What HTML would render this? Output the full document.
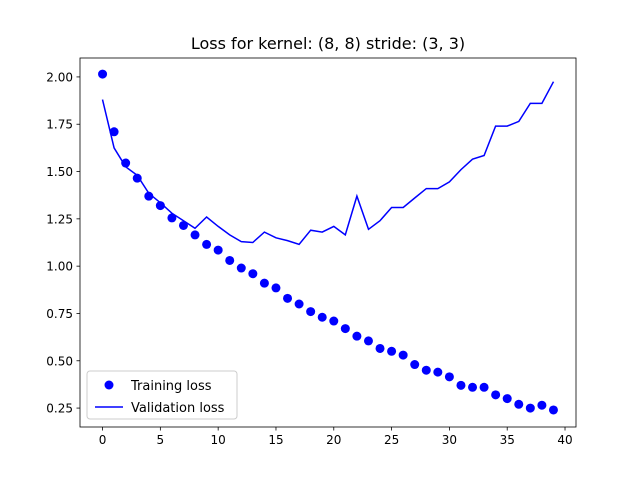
<!DOCTYPE html>
<html><head><meta charset="utf-8"><style>body{margin:0;background:#fff}svg{display:block;font-family:"DejaVu Sans","Liberation Sans",sans-serif}</style></head>
<body>
<svg id="chart" width="640" height="480" xmlns="http://www.w3.org/2000/svg">
<rect width="640" height="480" fill="#fff"/>
<text x="328" y="49" font-size="16" text-anchor="middle">Loss for kernel: (8, 8) stride: (3, 3)</text>
<g id="marks"></g>
<g id="axes"></g>
</svg>
<script>
const epochs = Array.from({length:40},(_, i)=>i);
const trainLoss=[2.015,1.71,1.545,1.465,1.37,1.32,1.255,1.215,1.165,1.115,1.085,1.03,0.99,0.96,0.91,0.885,0.83,0.80,0.76,0.73,0.71,0.67,0.63,0.605,0.565,0.55,0.53,0.48,0.45,0.44,0.415,0.37,0.36,0.36,0.32,0.30,0.27,0.25,0.265,0.24];
const valLoss=[1.88,1.625,1.525,1.48,1.385,1.335,1.28,1.24,1.20,1.26,1.21,1.165,1.13,1.125,1.18,1.15,1.135,1.115,1.19,1.18,1.21,1.165,1.37,1.195,1.24,1.31,1.31,1.36,1.41,1.41,1.445,1.51,1.565,1.585,1.74,1.74,1.765,1.86,1.86,1.975];
const xTicks=[0,5,10,15,20,25,30,35,40];
const yTicks=[0.25,0.5,0.75,1.0,1.25,1.5,1.75,2.0];
const L=80,R=576,T=58,B=427;
const xMin=-1.95,xMax=40.95,yMin=0.15,yMax=2.1;
const sx=v=>L+(v-xMin)/(xMax-xMin)*(R-L);
const sy=v=>B-(v-yMin)/(yMax-yMin)*(B-T);
const NS="http://www.w3.org/2000/svg";
function mk(tag,attrs,parent){const e=document.createElementNS(NS,tag);for(const k in attrs)e.setAttribute(k,attrs[k]);parent.appendChild(e);return e;}
const marks=document.getElementById('marks'),axes=document.getElementById('axes');
let d=valLoss.map((v,i)=>(i?'L':'M')+sx(epochs[i]).toFixed(1)+' '+sy(v).toFixed(1)).join(' ');
const line=mk('path',{d:d,fill:'none',stroke:'#0000ff','stroke-width':1.5},marks);


trainLoss.forEach((v,i)=>{const c=mk('circle',{cx:sx(epochs[i]),cy:sy(v),r:4.5,fill:'#0000ff'},marks);

});
const frame=mk('rect',{x:L,y:T,width:R-L,height:B-T,fill:'none',stroke:'#000','stroke-width':0.8},axes);


xTicks.forEach(t=>{const x=sx(t);mk('line',{x1:x,x2:x,y1:B,y2:B+3.5,stroke:'#000','stroke-width':0.8},axes);
const tx=mk('text',{x:x,y:B+17,'font-size':12,'text-anchor':'middle'},axes);tx.textContent=t;

});
yTicks.forEach(t=>{const y=sy(t);mk('line',{x1:L-3.5,x2:L,y1:y,y2:y,stroke:'#000','stroke-width':0.8},axes);
const tx=mk('text',{x:L-7,y:y+4.5,'font-size':12,'text-anchor':'end'},axes);tx.textContent=t.toFixed(2);

});
const lg=mk('g',{},axes);


mk('rect',{x:87,y:371,width:150,height:48,rx:3,fill:'#fff','fill-opacity':0.8,stroke:'#ccc'},lg);
mk('circle',{cx:109,cy:385,r:4.5,fill:'#0000ff'},lg);
mk('line',{x1:95,x2:123,y1:407,y2:407,stroke:'#0000ff','stroke-width':1.5},lg);
const t1=mk('text',{x:131,y:390,'font-size':13},lg);t1.textContent='Training loss';


const t2=mk('text',{x:131,y:412,'font-size':13},lg);t2.textContent='Validation loss';


</script>
</body></html>
